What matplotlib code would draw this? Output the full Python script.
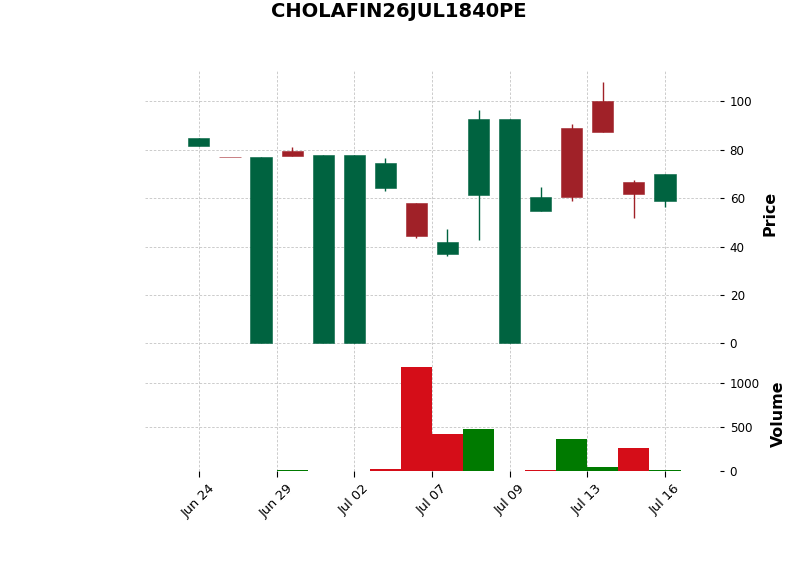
import matplotlib
matplotlib.use('Agg')
import matplotlib.pyplot as plt

# candle data (index positions 0..15)
opens = [81.5, 77.0, 0.0, 79.6, 0.0, 0.0, 64.2, 58.1, 36.9, 61.3, 0.0, 54.7, 89.1, 100.3, 66.8, 58.8]
highs = [85.0, 77.0, 77.1, 81.0, 78.0, 78.0, 76.4, 58.1, 47.1, 96.3, 92.8, 64.7, 90.5, 107.8, 67.3, 70.1]
lows = [81.5, 76.8, 0.0, 77.4, 0.0, 0.0, 62.8, 43.4, 36.2, 42.6, 0.0, 54.7, 58.7, 87.3, 51.6, 56.5]
closes = [85.0, 76.8, 77.1, 77.4, 78.0, 78.0, 74.6, 44.3, 42.0, 92.8, 92.8, 60.5, 60.6, 87.3, 61.7, 70.1]
volumes = [0, 0, 0, 10, 0, 0, 20, 1186, 420, 477, 0, 10, 363, 42, 260, 10]

tick_pos = [0, 2.5, 5, 7.5, 10, 12.5, 15]
tick_labels = ['Jun 24', 'Jun 29', 'Jul 02', 'Jul 07', 'Jul 09', 'Jul 13', 'Jul 16']

title = 'CHOLAFIN26JUL1840PE'

up_c, down_c = '#006340', '#a02128'
vup_c, vdown_c = '#007a00', '#d50d18'
grid_kw = dict(linestyle=(0, (3, 2)), color='#c4c4c4', linewidth=0.6)

fig = plt.figure(figsize=(8, 5.75), dpi=100)
ax = fig.add_axes([0.181, 0.379, 0.719, 0.499])
axv = fig.add_axes([0.181, 0.181, 0.719, 0.198], sharex=ax)

x = list(range(len(opens)))
cols = [up_c if c >= o else down_c for o, c in zip(opens, closes)]
bottoms = [min(o, c) for o, c in zip(opens, closes)]
heights = [max(abs(c - o), 0.25) for o, c in zip(opens, closes)]

ax.vlines(x, lows, highs, colors=cols, linewidth=1.0, zorder=2)
ax.bar(x, heights, bottom=bottoms, width=0.68, color=cols, edgecolor=cols,
       linewidth=0.4, zorder=3)

# volume coloured by close vs previous close
vcols = []
for i in range(len(closes)):
    prev = closes[i - 1] if i > 0 else opens[i]
    vcols.append(vup_c if closes[i] >= prev else vdown_c)
axv.bar(x, volumes, width=1.0, color=vcols, linewidth=0, zorder=3)

for a in (ax, axv):
    for s in a.spines.values():
        s.set_visible(False)
    a.grid(True, **grid_kw)
    a.set_axisbelow(True)
    a.yaxis.tick_right()
    a.yaxis.set_label_position('right')
    a.tick_params(axis='y', length=3, width=0.8, pad=4, labelsize=8.6)

ax.set_xlim(-1.74, 16.77)
ax.set_ylim(-5.7, 112.9)
ax.set_yticks([0, 20, 40, 60, 80, 100])
ax.tick_params(axis='x', length=0, labelbottom=False)
ax.set_ylabel('Price', fontsize=11.4, fontweight='bold', labelpad=7)

axv.set_ylim(0, 1300)
axv.set_yticks([0, 500, 1000])
axv.set_xticks(tick_pos)
axv.set_xticklabels(tick_labels, rotation=45, ha='center')
axv.tick_params(axis='x', length=4, width=0.8, pad=4, labelsize=9.4)
axv.set_ylabel('Volume', fontsize=11.4, fontweight='bold', labelpad=8)

fig.suptitle(title, fontsize=14, fontweight='bold', x=0.499, y=0.997, va='top')

fig.savefig('out.png', dpi=100)
